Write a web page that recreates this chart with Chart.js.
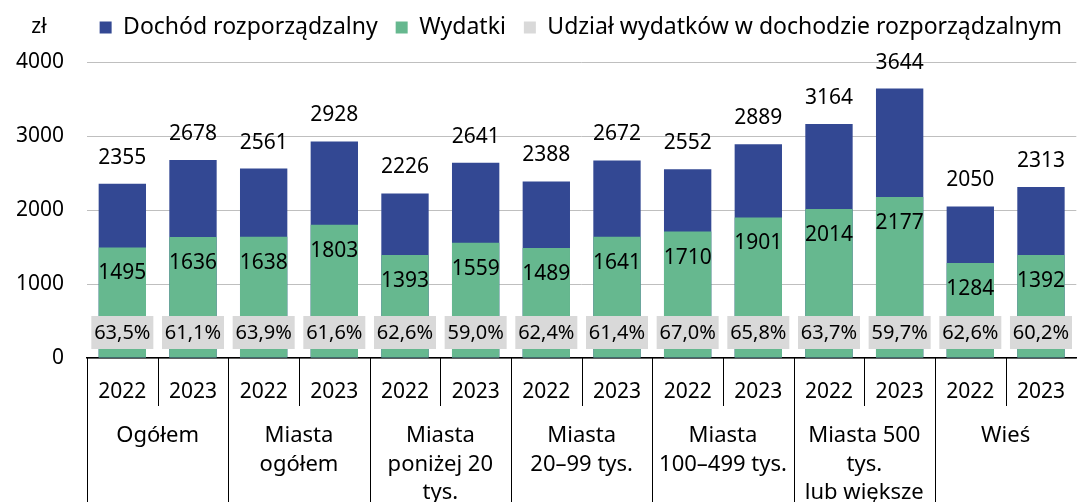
<!DOCTYPE html>
<html>
<head>
<meta charset="utf-8">
<script src="https://cdn.jsdelivr.net/npm/chart.js@4"></script>
<style>
  html, body { margin: 0; padding: 0; background: #fff; }
  #wrap { width: 1078px; height: 502px; }
</style>
</head>
<body>
<div id="wrap"><canvas id="chart"></canvas></div>
<script>
// data
const groups = [["Ogółem"], ["Miasta", "ogółem"], ["Miasta", "poniżej 20", "tys."], ["Miasta", "20–99 tys."],
    ["Miasta", "100–499 tys."], ["Miasta 500", "tys.", "lub większe"], ["Wieś"]];
const years = ["2022", "2023"];
const income = [2355, 2678, 2561, 2928, 2226, 2641, 2388, 2672, 2552, 2889, 3164, 3644, 2050, 2313];
const expenses = [1495, 1636, 1638, 1803, 1393, 1559, 1489, 1641, 1710, 1901, 2014, 2177, 1284, 1392];
const shareLabels = ["63,5%", "61,1%", "63,9%", "61,6%", "62,6%", "59,0%", "62,4%", "61,4%", "67,0%", "65,8%",
    "63,7%", "59,7%", "62,6%", "60,2%"];
const yTicks = [0, 1000, 2000, 3000, 4000];

const FONT = "'Noto Sans', sans-serif";
const BLUE = "#334893";
const GREEN = "#66b88f";
const GREY = "#d9d9d9";

// one x label per bar: the year
const labels = [];
groups.forEach(() => years.forEach(y => labels.push(y)));

// value labels, percentage boxes, two-level axis separators
const extras = {
    id: "extras",
    afterDatasetsDraw(chart) {
        const ctx = chart.ctx;
        const area = chart.chartArea;
        ctx.save();
        ctx.font = "21px " + FONT;
        ctx.fillStyle = "#000";
        ctx.textAlign = "center";
        ctx.textBaseline = "middle";

        chart.getDatasetMeta(0).data.forEach((el, i) => {
            ctx.fillText(String(income[i]), el.x, el.y - 26);
        });
        chart.getDatasetMeta(1).data.forEach((el, i) => {
            ctx.fillText(String(expenses[i]), el.x, el.y + 26);
        });

        // share of expenses in boxes near the bottom
        ctx.font = "20px " + FONT;
        chart.getDatasetMeta(0).data.forEach((el, i) => {
            ctx.fillStyle = GREY;
            ctx.fillRect(el.x - 31, area.bottom - 42, 62, 33);
            ctx.fillStyle = "#000";
            ctx.fillText(shareLabels[i], el.x, area.bottom - 25);
        });
        ctx.restore();
    },
    afterDraw(chart) {
        const ctx = chart.ctx;
        const area = chart.chartArea;
        const x = chart.scales.x;
        ctx.save();
        ctx.strokeStyle = "#000";
        ctx.lineWidth = 1;

        const edge = i => (x.getPixelForValue(i) + x.getPixelForValue(i + 1)) / 2;
        const vline = (px, y1, y2) => {
            px = Math.round(px) + 0.5;
            ctx.beginPath();
            ctx.moveTo(px, y1);
            ctx.lineTo(px, y2);
            ctx.stroke();
        };

        vline(area.left, area.bottom, chart.height);
        for (let i = 0; i < labels.length - 1; i++) {
            if (i % 2 === 1) vline(edge(i), area.bottom, chart.height);
            else vline(edge(i), area.bottom, area.bottom + 48);
        }

        ctx.font = "22px " + FONT;
        ctx.fillStyle = "#000";
        ctx.textAlign = "center";
        ctx.textBaseline = "middle";
        groups.forEach((lines, g) => {
            const cx = (x.getPixelForValue(g * 2) + x.getPixelForValue(g * 2 + 1)) / 2;
            lines.forEach((t, k) => ctx.fillText(t, cx, area.bottom + 78 + k * 28.5));
        });

        // unit above the y axis
        ctx.font = "21px " + FONT;
        ctx.fillText("zł", 39, 27);
        ctx.restore();
    }
};

new Chart(document.getElementById("chart"), {
    type: "bar",
    data: {
        labels: labels,
        datasets: [
            {
                label: "Dochód rozporządzalny",
                data: income,
                backgroundColor: BLUE,
                order: 2
            },
            {
                label: "Wydatki",
                data: expenses,
                backgroundColor: GREEN,
                order: 1
            },
            {
                label: "Udział wydatków w dochodzie rozporządzalnym",
                data: labels.map(() => null),
                backgroundColor: GREY,
                order: 0
            }
        ]
    },
    options: {
        responsive: true,
        maintainAspectRatio: false,
        animation: false,
        layout: { padding: { left: 0, right: -2, top: -2, bottom: 0 } },
        datasets: {
            bar: { grouped: false, categoryPercentage: 1, barPercentage: 0.67 }
        },
        scales: {
            x: {
                grid: { display: false },
                border: { color: "#000", width: 1.5 },
                ticks: {
                    color: "#000",
                    font: { family: FONT, size: 21 },
                    padding: 13,
                    maxRotation: 0,
                    autoSkip: false
                },
                afterFit(scale) { scale.height = 144; }
            },
            y: {
                min: 0,
                max: 4000,
                afterBuildTicks(scale) { scale.ticks = yTicks.map(v => ({ value: v })); },
                grid: { color: "#bfbfbf", drawTicks: false },
                border: { display: false },
                ticks: {
                    color: "#000",
                    font: { family: FONT, size: 21 },
                    padding: 23,
                    callback: v => String(v)
                },
                afterFit(scale) { scale.width = 87; }
            }
        },
        plugins: {
            legend: {
                position: "top",
                align: "end",
                labels: {
                    color: "#000",
                    font: { family: FONT, size: 23 },
                    boxWidth: 12,
                    boxHeight: 12,
                    padding: 18,
                    sort: (a, b) => a.datasetIndex - b.datasetIndex
                }
            },
            // empty title used only as a spacer between legend and plot
            title: {
                display: true,
                text: "",
                weight: 500,
                font: { size: 1 },
                padding: { top: 0, bottom: 12 }
            },
            tooltip: { enabled: false }
        }
    },
    plugins: [extras]
});
</script>
</body>
</html>
